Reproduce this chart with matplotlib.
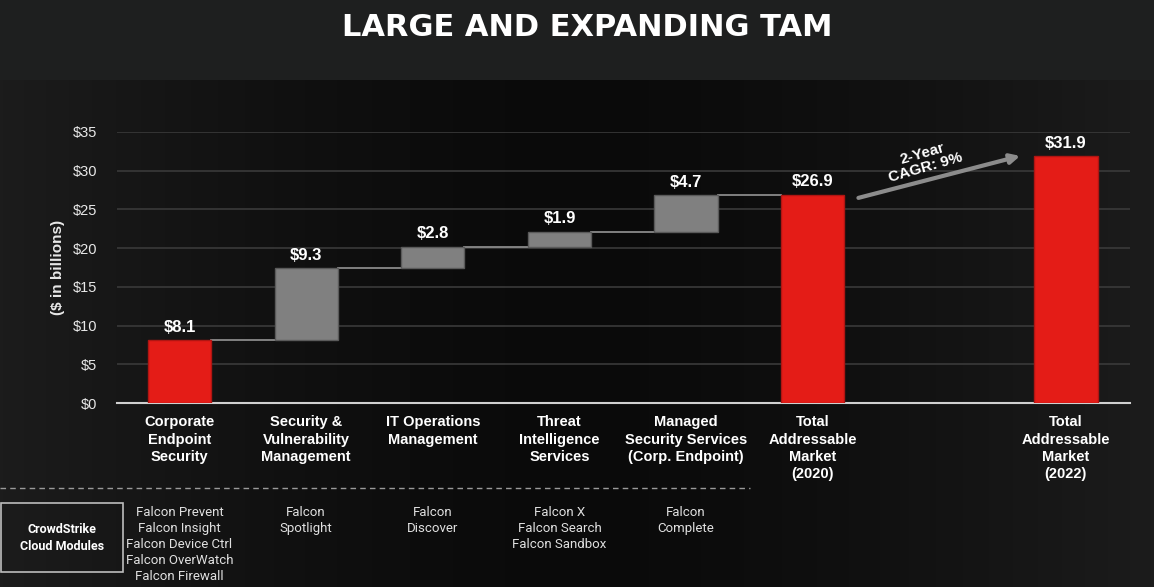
import numpy as np
import matplotlib.pyplot as plt
from matplotlib.transforms import blended_transform_factory

# Data
categories = ['Corporate\nEndpoint\nSecurity',
              'Security &\nVulnerability\nManagement',
              'IT Operations\nManagement',
              'Threat\nIntelligence\nServices',
              'Managed\nSecurity Services\n(Corp. Endpoint)',
              'Total\nAddressable\nMarket\n(2020)',
              'Total\nAddressable\nMarket\n(2022)']
positions = [0, 1, 2, 3, 4, 5, 7]
values = [8.1, 9.3, 2.8, 1.9, 4.7, 26.9, 31.9]
is_total = [True, False, False, False, False, True, True]
modules = ['Falcon Prevent\nFalcon Insight\nFalcon Device Ctrl\nFalcon OverWatch\nFalcon Firewall',
           'Falcon\nSpotlight',
           'Falcon\nDiscover',
           'Falcon X\nFalcon Search\nFalcon Sandbox',
           'Falcon\nComplete']
yticks = [0, 5, 10, 15, 20, 25, 30, 35]
cagr_text = '2-Year\nCAGR: 9%'

RED = '#e41c17'
GREY = '#808080'
WHITE = '#ffffff'

fig = plt.figure(figsize=(11.54, 5.87), dpi=100)
fig.patch.set_facecolor('#1e1f1f')

# dark gradient panel behind the chart
bg = fig.add_axes([0, 0, 1, 1 - 80 / 587], zorder=0)
xs = np.linspace(-1, 1, 400)
shade = 0.04 + 0.07 * np.abs(xs) ** 1.5
img = np.tile(shade, (10, 1))
bg.imshow(np.dstack([img, img, img]), aspect='auto', extent=[0, 1, 0, 1])
bg.axis('off')

ax = fig.add_axes([117 / 1154, 1 - 403 / 587, (1130 - 117) / 1154, (403 - 132) / 587], zorder=1)
ax.set_facecolor('none')

# waterfall bottoms
bottoms = []
running = 0
for v, tot in zip(values, is_total):
    if tot:
        bottoms.append(0)
        running = v
    else:
        bottoms.append(running)
        running += v

for p, v, b, tot in zip(positions, values, bottoms, is_total):
    col = RED if tot else GREY
    ec = '#b01512' if tot else '#5a5a5a'
    ax.bar(p, v, bottom=b, width=0.5, color=col, edgecolor=ec, linewidth=1, zorder=3)
    ax.text(p, b + v + 0.7, f'${v}', ha='center', va='bottom', color=WHITE,
            fontsize=12, fontweight='bold', family='Liberation Sans', zorder=4)

# connector lines between the steps
for i in range(5):
    top = bottoms[i] + values[i]
    ax.plot([positions[i] + 0.25, positions[i + 1] - 0.25], [top, top],
            color='#8a8a8a', lw=1.3, zorder=2)

ax.set_xlim(-0.494, 7.506)
ax.set_ylim(0, 35)
ax.set_yticks(yticks)
ax.set_yticklabels([f'${t}' for t in yticks], color='#e8e8e8', fontsize=10.5,
                   family='Liberation Sans')
ax.set_xticks([])
ax.tick_params(axis='y', length=0, pad=14)
ax.grid(axis='y', color='#3a3a3a', lw=1.2, zorder=0)
for s in ['top', 'right', 'left']:
    ax.spines[s].set_visible(False)
ax.spines['bottom'].set_color('#d0d0d0')
ax.spines['bottom'].set_linewidth(1.5)
ax.set_ylabel('($ in billions)', color='#e8e8e8', fontsize=11, fontweight='bold',
              family='Liberation Sans', labelpad=6)

# category labels
for p, c in zip(positions, categories):
    ax.text(p, -1.6, c, ha='center', va='top', color=WHITE, fontsize=10.5,
            fontweight='bold', family='Liberation Sans', linespacing=1.3, clip_on=False)

# growth arrow
ax.annotate('', xy=(6.66, 32.0), xytext=(5.34, 26.4),
            arrowprops=dict(arrowstyle='-|>', color='#8c8c8c', lw=3, mutation_scale=14),
            zorder=4)
ax.text(5.88, 31.3, cagr_text, ha='center', va='center', rotation=16, color=WHITE,
        fontsize=11, fontweight='bold', family='Liberation Sans', linespacing=1.0)

# title
fig.text(587 / 1154, 1 - 28 / 587, 'LARGE AND EXPANDING TAM', ha='center', va='center',
         color=WHITE, fontsize=22, fontweight='heavy', family='DejaVu Sans')

# module section
fig.add_artist(plt.Line2D([0, 750 / 1154], [1 - 488 / 587] * 2, color='#9a9a9a',
                          lw=1, ls=(0, (4, 3))))
fig.add_artist(plt.Rectangle((1 / 1154, 1 - 572 / 587), 122 / 1154, 69 / 587,
                             fill=False, edgecolor='#bdbdbd', lw=1.2))
fig.text(62 / 1154, 1 - 538 / 587, 'CrowdStrike\nCloud Modules', ha='center', va='center',
         color=WHITE, fontsize=9, fontweight='bold', family='Roboto', linespacing=1.45)
tr = blended_transform_factory(ax.transData, fig.transFigure)
for p, m in zip(positions[:5], modules):
    ax.text(p, 1 - 506 / 587, m, transform=tr, ha='center', va='top', color='#e0e0e0',
            fontsize=9.5, family='Roboto', linespacing=1.3, clip_on=False)

fig.savefig('out.png', dpi=100, facecolor=fig.get_facecolor())
